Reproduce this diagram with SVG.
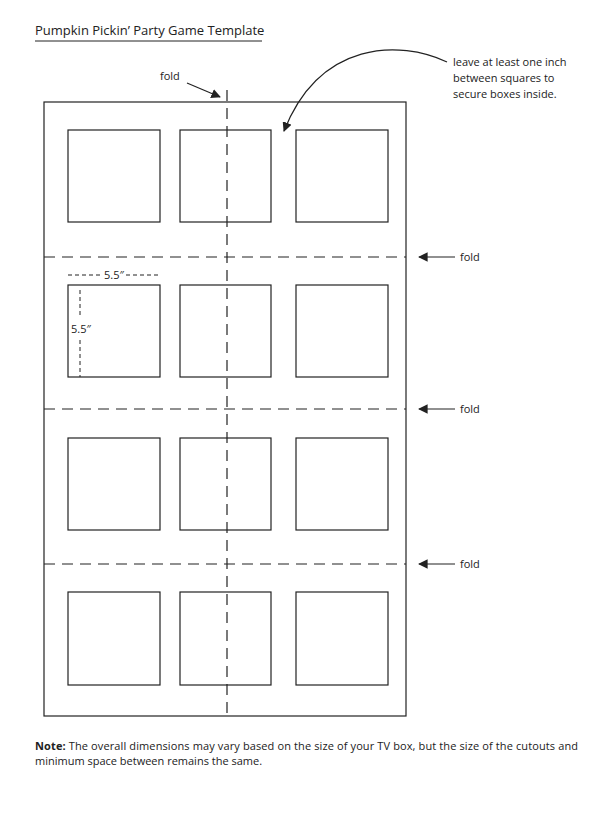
<svg xmlns="http://www.w3.org/2000/svg" width="616" height="822" viewBox="0 0 616 822">
<style>
text{font-family:"Open Sans","Liberation Sans",sans-serif;font-size:11px;fill:#222}
.sq{fill:none;stroke:#222;stroke-width:1.2}
.d{stroke:#222;stroke-width:1.2;stroke-dasharray:11,7;fill:none}
.dot{stroke:#222;stroke-width:1;stroke-dasharray:4,3;fill:none}
.a{stroke:#222;stroke-width:1.2;fill:none;marker-end:url(#ah)}
</style>
<defs><marker id="ah" viewBox="0 0 10 10" refX="9" refY="5" markerWidth="8" markerHeight="8" orient="auto"><path d="M0,0L10,5L0,10z" fill="#222"/></marker></defs>
<rect width="616" height="822" fill="#fff"/>
<text x="35" y="35" style="font-size:13px">Pumpkin Pickin’ Party Game Template</text>
<line x1="35" y1="41" x2="262" y2="41" stroke="#222"/>
<rect class="sq" x="44" y="102" width="362" height="614"/>
<g class="sq">
<rect x="68" y="130" width="92" height="92"/><rect x="180" y="130" width="91" height="92"/><rect x="296" y="130" width="92" height="92"/>
<rect x="68" y="285" width="92" height="92"/><rect x="180" y="285" width="91" height="92"/><rect x="296" y="285" width="92" height="92"/>
<rect x="68" y="438" width="92" height="92"/><rect x="180" y="438" width="91" height="92"/><rect x="296" y="438" width="92" height="92"/>
<rect x="68" y="592" width="92" height="93"/><rect x="180" y="592" width="91" height="93"/><rect x="296" y="592" width="92" height="93"/>
</g>
<line class="d" x1="227" y1="90" x2="227" y2="716"/>
<line class="d" x1="44" y1="257" x2="406" y2="257"/>
<line class="d" x1="44" y1="409" x2="406" y2="409"/>
<line class="d" x1="44" y1="564" x2="406" y2="564"/>
<line class="dot" x1="68" y1="275" x2="102" y2="275"/><line class="dot" x1="126" y1="275" x2="160" y2="275"/>
<text x="104" y="279">5.5″</text>
<line class="dot" x1="80" y1="290" x2="80" y2="318"/><line class="dot" x1="80" y1="340" x2="80" y2="377"/>
<text x="71" y="333">5.5″</text>
<text x="160" y="80">fold</text>
<path class="a" d="M187,83L220,97"/>
<path class="a" d="M447,62C400,40 320,40 284,131"/>
<text x="453" y="66">leave at least one inch</text>
<text x="453" y="82">between squares to</text>
<text x="453" y="98">secure boxes inside.</text>
<path class="a" d="M455,257L419,257"/><text x="460" y="261">fold</text>
<path class="a" d="M455,409L419,409"/><text x="460" y="413">fold</text>
<path class="a" d="M455,564L419,564"/><text x="460" y="568">fold</text>
<text x="35" y="750" style="font-size:11px" textLength="543" lengthAdjust="spacing"><tspan font-weight="bold">Note:</tspan> The overall dimensions may vary based on the size of your TV box, but the size of the cutouts and</text>
<text x="35" y="765" style="font-size:11px">minimum space between remains the same.</text>
</svg>
